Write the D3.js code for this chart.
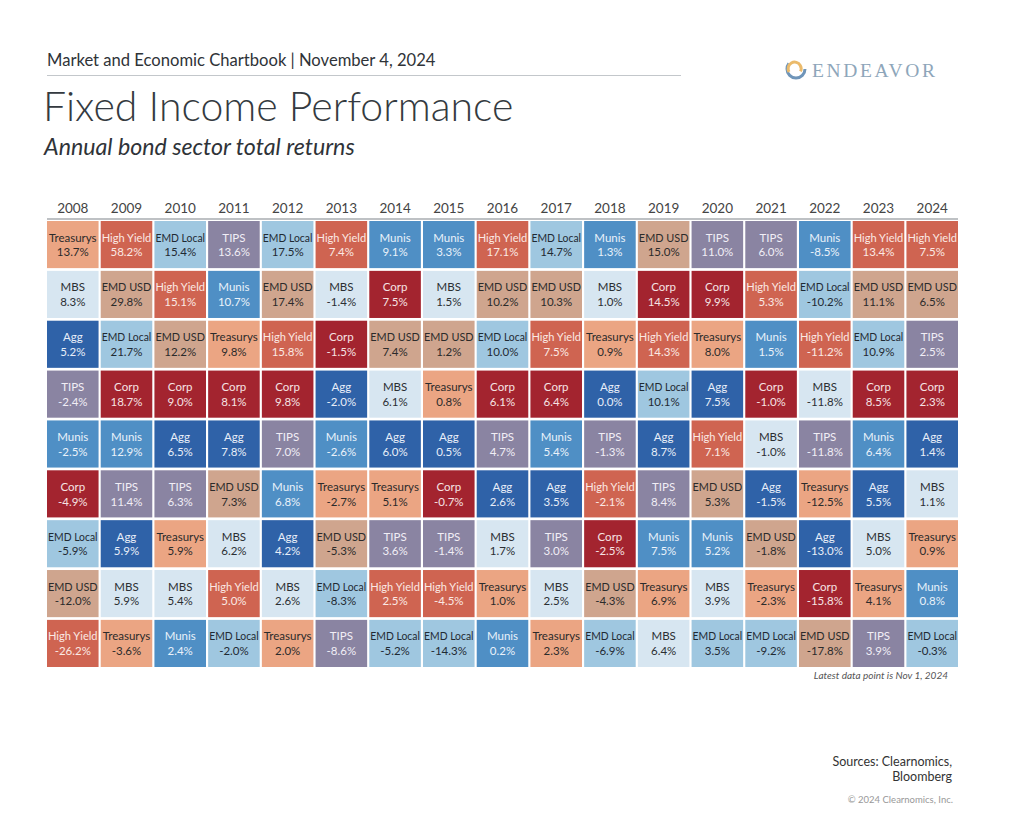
<!DOCTYPE html>
<html><head><meta charset="utf-8">
<script src="https://cdn.jsdelivr.net/npm/d3@7"></script>
<style>html,body{margin:0;padding:0;background:#fff;}svg{display:block;}</style>
</head><body>
<div id="chart"></div>
<script>
const years = ["2008","2009","2010","2011","2012","2013","2014","2015","2016","2017","2018","2019","2020","2021","2022","2023","2024"];
const sectorOrder = [
  ["Treasurys","MBS","Agg","TIPS","Munis","Corp","EMD Local","EMD USD","High Yield"],
  ["High Yield","EMD USD","EMD Local","Corp","Munis","TIPS","Agg","MBS","Treasurys"],
  ["EMD Local","High Yield","EMD USD","Corp","Agg","TIPS","Treasurys","MBS","Munis"],
  ["TIPS","Munis","Treasurys","Corp","Agg","EMD USD","MBS","High Yield","EMD Local"],
  ["EMD Local","EMD USD","High Yield","Corp","TIPS","Munis","Agg","MBS","Treasurys"],
  ["High Yield","MBS","Corp","Agg","Munis","Treasurys","EMD USD","EMD Local","TIPS"],
  ["Munis","Corp","EMD USD","MBS","Agg","Treasurys","TIPS","High Yield","EMD Local"],
  ["Munis","MBS","EMD USD","Treasurys","Agg","Corp","TIPS","High Yield","EMD Local"],
  ["High Yield","EMD USD","EMD Local","Corp","TIPS","Agg","MBS","Treasurys","Munis"],
  ["EMD Local","EMD USD","High Yield","Corp","Munis","Agg","TIPS","MBS","Treasurys"],
  ["Munis","MBS","Treasurys","Agg","TIPS","High Yield","Corp","EMD USD","EMD Local"],
  ["EMD USD","Corp","High Yield","EMD Local","Agg","TIPS","Munis","Treasurys","MBS"],
  ["TIPS","Corp","Treasurys","Agg","High Yield","EMD USD","Munis","MBS","EMD Local"],
  ["TIPS","High Yield","Munis","Corp","MBS","Agg","EMD USD","Treasurys","EMD Local"],
  ["Munis","EMD Local","High Yield","MBS","TIPS","Treasurys","Agg","Corp","EMD USD"],
  ["High Yield","EMD USD","EMD Local","Corp","Munis","Agg","MBS","Treasurys","TIPS"],
  ["High Yield","EMD USD","TIPS","Corp","Agg","MBS","Treasurys","Munis","EMD Local"]
];
const sectorReturns = [
  [13.7, 8.3, 5.2, -2.4, -2.5, -4.9, -5.9, -12.0, -26.2],
  [58.2, 29.8, 21.7, 18.7, 12.9, 11.4, 5.9, 5.9, -3.6],
  [15.4, 15.1, 12.2, 9.0, 6.5, 6.3, 5.9, 5.4, 2.4],
  [13.6, 10.7, 9.8, 8.1, 7.8, 7.3, 6.2, 5.0, -2.0],
  [17.5, 17.4, 15.8, 9.8, 7.0, 6.8, 4.2, 2.6, 2.0],
  [7.4, -1.4, -1.5, -2.0, -2.6, -2.7, -5.3, -8.3, -8.6],
  [9.1, 7.5, 7.4, 6.1, 6.0, 5.1, 3.6, 2.5, -5.2],
  [3.3, 1.5, 1.2, 0.8, 0.5, -0.7, -1.4, -4.5, -14.3],
  [17.1, 10.2, 10.0, 6.1, 4.7, 2.6, 1.7, 1.0, 0.2],
  [14.7, 10.3, 7.5, 6.4, 5.4, 3.5, 3.0, 2.5, 2.3],
  [1.3, 1.0, 0.9, 0.0, -1.3, -2.1, -2.5, -4.3, -6.9],
  [15.0, 14.5, 14.3, 10.1, 8.7, 8.4, 7.5, 6.9, 6.4],
  [11.0, 9.9, 8.0, 7.5, 7.1, 5.3, 5.2, 3.9, 3.5],
  [6.0, 5.3, 1.5, -1.0, -1.0, -1.5, -1.8, -2.3, -9.2],
  [-8.5, -10.2, -11.2, -11.8, -11.8, -12.5, -13.0, -15.8, -17.8],
  [13.4, 11.1, 10.9, 8.5, 6.4, 5.5, 5.0, 4.1, 3.9],
  [7.5, 6.5, 2.5, 2.3, 1.4, 1.1, 0.9, 0.8, -0.3]
];
const sectors = ["Treasurys","High Yield","EMD Local","TIPS","MBS","EMD USD","Agg","Munis","Corp"];
const sectorColors = ["#eba583","#cf6451","#9fc7e0","#8a84a2","#d7e6f1","#cfa58e","#2f62a8","#4f8fc5","#a3242f"];
const sectorTextColors = ["#2b2b2b","#fbe9e4","#1f2a33","#f1eef6","#2b2f33","#2b2b2b","#e8eef8","#eaf2fa","#f6e3e4"];
const ranks = d3.range(9);

const W = 1024, H = 828;
const svg = d3.select("#chart").append("svg").attr("width", W).attr("height", H)
  .style("font-family", "Lato, 'Open Sans', sans-serif");

// header
svg.append("text").attr("x", 47).attr("y", 66).attr("font-size", 16.6).attr("fill", "#2f3338")
  .text("Market and Economic Chartbook | November 4, 2024");
svg.append("line").attr("x1", 47).attr("x2", 681).attr("y1", 75.5).attr("y2", 75.5)
  .attr("stroke", "#c3c7cb").attr("stroke-width", 1.2);
svg.append("text").attr("x", 43).attr("y", 121).attr("font-size", 41).attr("fill", "#343a40")
  .attr("font-weight", 300).text("Fixed Income Performance");
svg.append("text").attr("x", 44).attr("y", 155).attr("font-size", 23.2).attr("font-style", "italic")
  .attr("fill", "#2f3338").text("Annual bond sector total returns");

// logo
const logo = svg.append("g").attr("transform", "translate(796,69)");
logo.append("circle").attr("r", 9).attr("fill", "none").attr("stroke", "#6f95b9").attr("stroke-width", 3)
  .attr("stroke-dasharray", "34 23");
logo.append("circle").attr("r", 6.5).attr("cx", 1).attr("cy", 1).attr("fill", "none").attr("stroke", "#ebbb6c").attr("stroke-width", 3)
  .attr("stroke-dasharray", "26 15").attr("transform", "rotate(150)");
svg.append("text").attr("x", 812).attr("y", 77).attr("font-size", 19.5).attr("letter-spacing", 2.6)
  .attr("font-family", "'Liberation Serif', 'DejaVu Serif', serif")
  .attr("fill", "#8ea6ba").text("ENDEAVOR");

// scales
const x = d3.scaleBand().domain(years).range([47, 958]).paddingInner(0.04).paddingOuter(0);
const y = d3.scaleBand().domain(ranks).range([221, 667]).paddingInner(0.055).paddingOuter(0);
const color = d3.scaleOrdinal().domain(sectors).range(sectorColors);
const textColor = d3.scaleOrdinal().domain(sectors).range(sectorTextColors);
const fmt = v => v.toFixed(1) + "%";

// year axis
const xAxis = d3.axisTop(x).tickSize(0).tickPadding(0);
const ax = svg.append("g").attr("transform", "translate(0,213)").call(xAxis);
ax.select(".domain").remove();
ax.selectAll("text").attr("font-size", 13.5).attr("fill", "#444").attr("font-family", "Lato, sans-serif");
svg.append("line").attr("x1", 47).attr("x2", 958).attr("y1", 219).attr("y2", 219)
  .attr("stroke", "#a9adb1").attr("stroke-width", 1.6);

// cells
const cells = [];
years.forEach((yr, i) => {
  ranks.forEach(r => cells.push({year: yr, rank: r, sector: sectorOrder[i][r], value: sectorReturns[i][r]}));
});
const g = svg.append("g").selectAll("g").data(cells).join("g")
  .attr("transform", d => `translate(${x(d.year)},${y(d.rank)})`);
g.append("rect").attr("width", x.bandwidth()).attr("height", y.bandwidth())
  .attr("fill", d => color(d.sector));
const maxW = x.bandwidth() - 2;
g.append("text").attr("x", x.bandwidth() / 2).attr("y", 20.5)
  .attr("text-anchor", "middle").attr("font-size", 11.5).attr("fill", d => textColor(d.sector))
  .text(d => d.sector)
  .each(function() {
    const w = this.getComputedTextLength();
    if (w > maxW) d3.select(this).attr("textLength", maxW).attr("lengthAdjust", "spacingAndGlyphs");
  });
g.append("text").attr("x", x.bandwidth() / 2).attr("y", 35.3)
  .attr("text-anchor", "middle").attr("font-size", 11.5).attr("fill", d => textColor(d.sector))
  .text(d => fmt(d.value));

// footnotes
svg.append("text").attr("x", 948).attr("y", 679).attr("text-anchor", "end").attr("font-size", 10)
  .attr("font-style", "italic").attr("fill", "#555").text("Latest data point is Nov 1, 2024");
svg.append("text").attr("x", 952).attr("y", 766).attr("text-anchor", "end").attr("font-size", 12.5)
  .attr("fill", "#333").text("Sources: Clearnomics,");
svg.append("text").attr("x", 952).attr("y", 781).attr("text-anchor", "end").attr("font-size", 12.5)
  .attr("fill", "#333").text("Bloomberg");
svg.append("text").attr("x", 953).attr("y", 803).attr("text-anchor", "end").attr("font-size", 9.5)
  .attr("fill", "#999").text("© 2024 Clearnomics, Inc.");
</script>
</body></html>
